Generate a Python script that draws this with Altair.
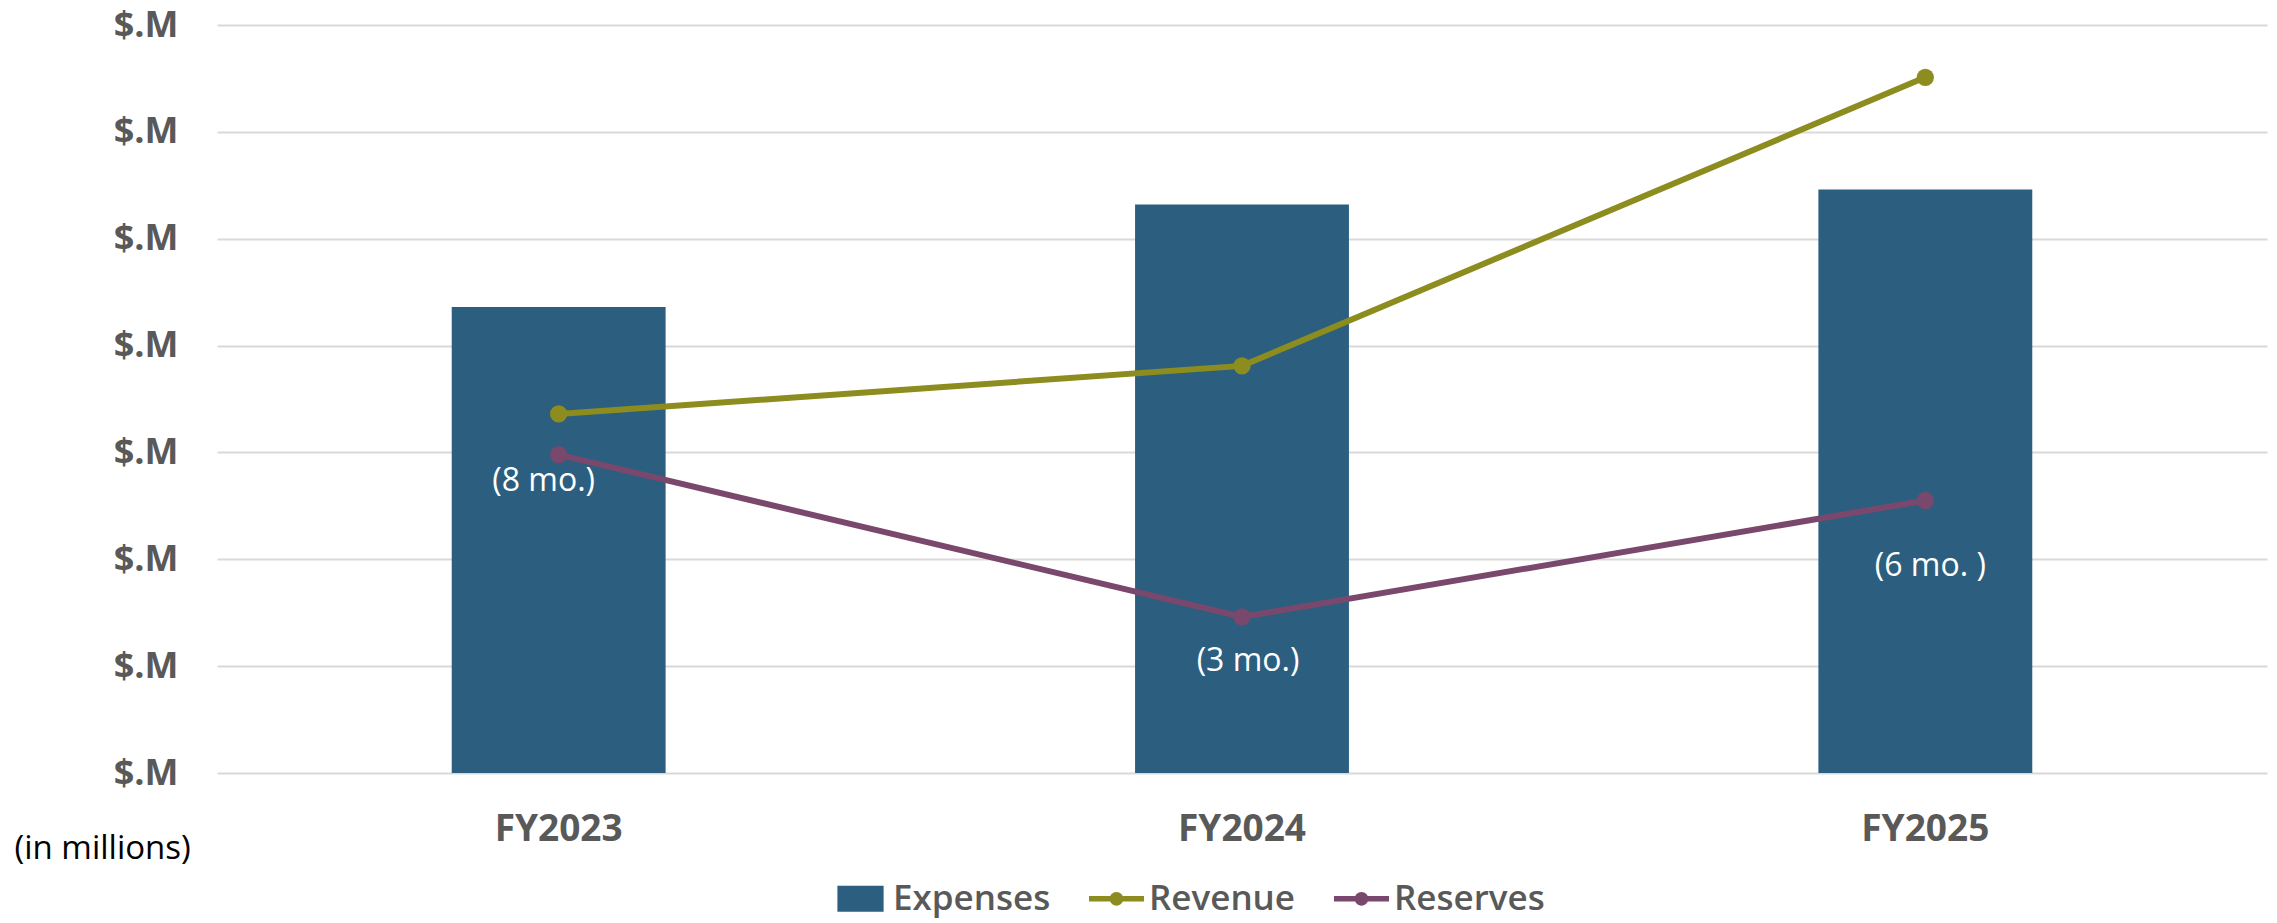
import altair as alt
import pandas as pd

# ---------------- data ----------------
years = ["FY2023", "FY2024", "FY2025"]
expenses = [4.36, 5.32, 5.46]
revenue = [3.36, 3.81, 6.51]
reserves = [2.98, 1.46, 2.55]
reserve_labels = ["(8 mo.)", "(3 mo.)", "(6 mo. )"]
series_names = ["Expenses", "Revenue", "Reserves"]
y_tick_values = [0, 1, 2, 3, 4, 5, 6, 7]
y_tick_label = "$.M"
axis_note = "(in millions)"

# ---------------- style ----------------
colors = ["#2C5E80", "#8C8C1F", "#7A486C"]
label_offsets = [(-15, 26), (6, 44), (5, 65)]  # (dx, dy) per reserve label
FONT = "Open Sans"
GRAY = "#595959"

# legend symbol paths (unit coords)
rect_path = "M-0.84,-0.47H0.84V0.47H-0.84Z"
linedot_path = ("M-1,-0.1H-0.22V0.1H-1Z M0.22,-0.1H1V0.1H0.22Z "
                "M0.25,0A0.25,0.25,0,1,1,-0.25,0A0.25,0.25,0,1,1,0.25,0Z")

bars_df = pd.DataFrame({"year": years, "value": expenses, "series": "Expenses"})
rev_df = pd.DataFrame({"year": years, "value": revenue, "series": "Revenue"})
res_df = pd.DataFrame({"year": years, "value": reserves, "series": "Reserves"})
labels_df = pd.DataFrame({"year": years, "value": reserves, "label": reserve_labels})
all_df = pd.concat([bars_df, rev_df, res_df])

x_enc = alt.X(
    "year:N",
    sort=years,
    scale=alt.Scale(paddingInner=0.687, paddingOuter=0.3435),
    axis=alt.Axis(
        title=None, ticks=False, domain=False, grid=False,
        labelFont=FONT, labelFontSize=37, labelFontWeight="bold",
        labelColor=GRAY, labelPadding=38, labelAngle=0,
    ),
)
y_enc = alt.Y(
    "value:Q",
    scale=alt.Scale(domain=[0, 7], nice=False, zero=True),
    axis=alt.Axis(
        values=y_tick_values, labelExpr=f"'{y_tick_label}'",
        ticks=False, domain=False, grid=True,
        gridColor="#D9D9D9", gridWidth=2,
        labelFont=FONT, labelFontSize=36, labelFontWeight="bold",
        labelColor=GRAY, labelPadding=39,
        title=axis_note, titleAngle=0, titleAlign="left", titleBaseline="middle",
        titleX=-203, titleY=823, titleFont=FONT, titleFontSize=33,
        titleFontWeight="normal", titleColor="black",
    ),
)

bars = alt.Chart(bars_df).mark_bar(color=colors[0]).encode(x=x_enc, y=y_enc)

series_layers = []
for df, col in [(rev_df, colors[1]), (res_df, colors[2])]:
    series_layers.append(
        alt.Chart(df).mark_line(strokeWidth=6, color=col).encode(x=x_enc, y=y_enc))
    series_layers.append(
        alt.Chart(df).mark_point(filled=True, size=300, opacity=1, color=col)
        .encode(x=x_enc, y=y_enc))

label_layers = []
for i, yr in enumerate(years):
    dx, dy = label_offsets[i]
    label_layers.append(
        alt.Chart(labels_df).transform_filter(alt.datum.year == yr)
        .mark_text(font=FONT, fontSize=32, color="white", dx=dx, dy=dy,
                   align="center", baseline="middle")
        .encode(x=x_enc, y=y_enc, text="label:N")
    )

legend = alt.Legend(
    title=None, orient="none", legendX=616, legendY=846,
    direction="horizontal", columns=3,
    symbolSize=3025, symbolOpacity=1, symbolStrokeWidth=0,
    labelFont=FONT, labelFontSize=35, labelFontWeight=600, labelColor=GRAY,
    labelOffset=5, columnPadding=38, labelLimit=0, padding=0,
)
legend_layer = alt.Chart(all_df).mark_point(filled=True, opacity=0).encode(
    x=x_enc, y=y_enc,
    color=alt.Color("series:N", scale=alt.Scale(domain=series_names, range=colors),
                    legend=legend),
    shape=alt.Shape("series:N",
                    scale=alt.Scale(domain=series_names,
                                    range=[rect_path, linedot_path, linedot_path]),
                    legend=legend),
)

chart = alt.layer(bars, *series_layers, *label_layers, legend_layer).properties(
    width=2050, height=748,
    padding={"left": 217, "top": 25, "right": 10, "bottom": 150},
    autosize="none",
    background="white",
).configure_view(stroke=None)

chart.save("out.html", embed_options={"renderer": "svg", "actions": False})
